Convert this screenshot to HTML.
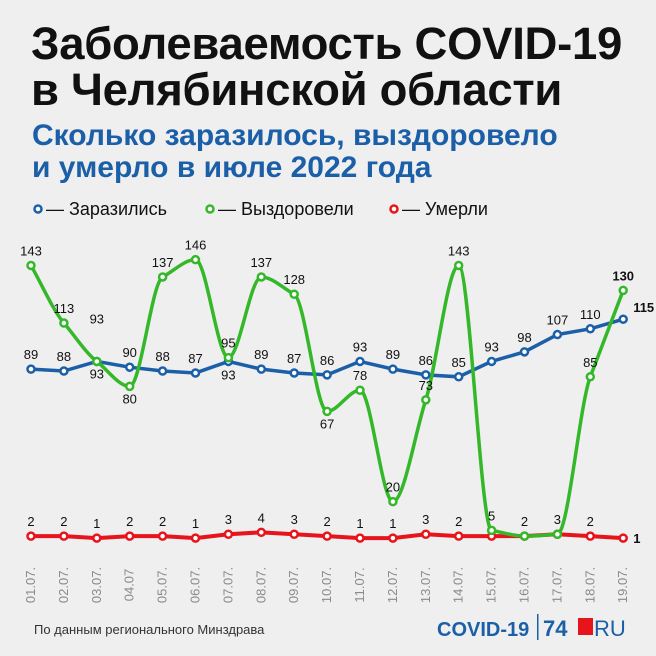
<!DOCTYPE html>
<html><head><meta charset="utf-8"><style>
body{margin:0;width:656px;height:656px;background:#efefef;font-family:"Liberation Sans",sans-serif;overflow:hidden}
.t{position:absolute;left:31px;top:21px;font-size:45.5px;font-weight:bold;color:#111;line-height:46px;letter-spacing:-0.3px}
.s{position:absolute;left:32px;top:120px;font-size:30px;font-weight:bold;color:#1b5fa8;line-height:32px}
svg{position:absolute;left:0;top:0}
</style></head><body>
<div class="t">Заболеваемость COVID-19<br>в Челябинской области</div>
<div class="s">Сколько заразилось, выздоровело<br>и умерло в июле 2022 года</div>
<svg id="c" width="656" height="656" font-family="Liberation Sans, sans-serif"></svg>
<script>
const S=document.getElementById('c');let h='';
const X=i=>31+32.9*i, Y=v=>540-1.92*v;
const G=[143,113,93,80,137,146,95,137,128,67,78,20,73,143,5,2,3,85,130];
const B=[89,88,93,90,88,87,93,89,87,86,93,89,86,85,93,98,107,110,115];
const R=[2,2,1,2,2,1,3,4,3,2,1,1,3,2,2,2,3,2,1];
function smooth(a){let p=a.map((v,i)=>[X(i),Y(v)]);let n=p.length,m=[],s=[];
for(let i=0;i<n-1;i++)s.push((p[i+1][1]-p[i][1])/(p[i+1][0]-p[i][0]));
for(let i=0;i<n;i++){if(i==0)m.push(s[0]);else if(i==n-1)m.push(s[n-2]);else if(s[i-1]*s[i]<=0)m.push(0);else{let a1=s[i-1],b1=s[i];m.push(Math.sign(a1)*Math.min(Math.abs(a1),Math.abs(b1),0.5*Math.abs(a1+b1)));}}
let d='M'+p[0];for(let i=0;i<n-1;i++){let dx=(p[i+1][0]-p[i][0])/3;d+='C'+[p[i][0]+dx,p[i][1]+m[i]*dx]+' '+[p[i+1][0]-dx,p[i+1][1]-m[i+1]*dx]+' '+p[i+1];}return d;}
function poly(a){return 'M'+a.map((v,i)=>X(i)+','+Y(v)).join('L');}
function pts(a,c){return a.map((v,i)=>`<circle cx="${X(i)}" cy="${Y(v)}" r="3.5" fill="#fff" stroke="${c}" stroke-width="2.5"/>`).join('');}
h+=`<path d="${poly(R)}" fill="none" stroke="#e8141c" stroke-width="4"/>`;
h+=`<path d="${poly(B)}" fill="none" stroke="#1b5fa8" stroke-width="3.5"/>`;
h+=`<path d="${smooth(G)}" fill="none" stroke="#34b82a" stroke-width="3.5"/>`;
h+=pts(R,'#e8141c')+pts(B,'#1b5fa8')+pts(G,'#34b82a');
const gb=[0,0,1,1,0,0,0,0,0,1,0,0,0,0,0,0,0,0,0];
function lab(x,y,t,b,anc){h+=`<text x="${x}" y="${y}" font-size="13" text-anchor="${anc||'middle'}" fill="#111" ${b?'font-weight="bold"':''}>${t}</text>`;}
G.forEach((v,i)=>{if(i==18)lab(X(i),Y(v)-10,v,1);else lab(X(i),gb[i]?Y(v)+17:Y(v)-10,v);});
B.forEach((v,i)=>{if(i==18)lab(X(i)+10,Y(v)-7,v,1,'start');else if(i==6)lab(X(i),Y(v)+18,v);else if(i==2)lab(X(i),Y(v)-38,v);else lab(X(i),Y(v)-10,v);});
R.forEach((v,i)=>{if(i==18)lab(X(i)+10,Y(v)+5,v,1,'start');else if(i<14||i>16)lab(X(i),Y(v)-10,v);});
for(let i=0;i<19;i++){let d=String(i+1).padStart(2,'0')+(i==3?'.07':'.07.');h+=`<text transform="translate(${X(i)+4},585) rotate(-90)" font-size="13" fill="#8a8a8a" text-anchor="middle">${d}</text>`;}
function leg(x,c,t){h+=`<circle cx="${x}" cy="209" r="3.5" fill="#fff" stroke="${c}" stroke-width="2.5"/><text x="${x+8}" y="215" font-size="18" fill="#111">— ${t}</text>`;}
leg(38,'#1b5fa8','Заразились');leg(210,'#34b82a','Выздоровели');leg(394,'#e8141c','Умерли');
h+=`<text x="34" y="634" font-size="13" fill="#333">По данным регионального Минздрава</text>`;
h+=`<text x="437" y="636" font-size="20" font-weight="bold" fill="#1b5fa8">COVID-19</text><rect x="537" y="614" width="1.5" height="26" fill="#1b5fa8"/><text x="543" y="636" font-size="22" font-weight="bold" fill="#1b5fa8">74</text><rect x="578" y="618" width="15" height="17" fill="#e8141c"/><text x="594" y="636" font-size="22" fill="#1b5fa8">RU</text>`;
S.innerHTML=h;
</script>
</body></html>
